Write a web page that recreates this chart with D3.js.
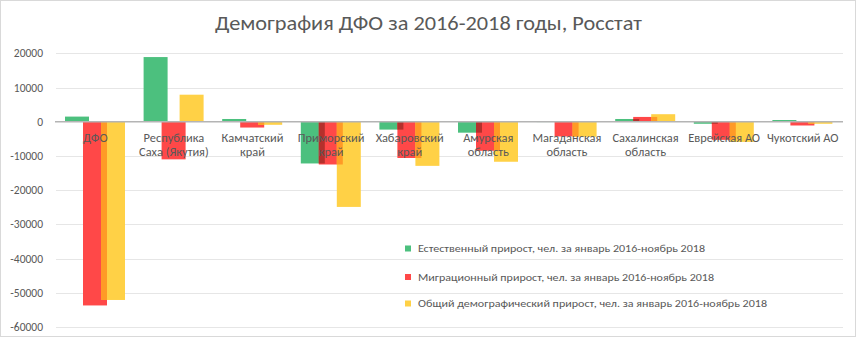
<!DOCTYPE html>
<html><head><meta charset="utf-8">
<script src="https://cdn.jsdelivr.net/npm/d3@7"></script>
<style>
html,body{margin:0;padding:0;background:#fff;}
svg{display:block;}
text{font-family:Carlito,"Liberation Sans Narrow","Liberation Sans",Arial,sans-serif;fill:#595959;}
</style></head>
<body>
<script>
const title = "Демография ДФО за 2016-2018 годы, Росстат";
const categories = ["ДФО","Республика Саха (Якутия)","Камчатский край","Приморский край","Хабаровский край","Амурская область","Магаданская область","Сахалинская область","Еврейская АО","Чукотский  АО"];
const categoryLines = [["ДФО"],["Республика","Саха (Якутия)"],["Камчатский","край"],["Приморский","край"],["Хабаровский","край"],["Амурская","область"],["Магаданская","область"],["Сахалинская","область"],["Еврейская АО"],["Чукотский  АО"]];
const seriesNames = ["Естественный прирост, чел. за январь 2016-ноябрь 2018","Миграционный прирост, чел. за январь 2016-ноябрь 2018","Общий  демографический прирост, чел. за январь 2016-ноябрь 2018"];
const natural   = [1500, 18900, 800, -12200, -2300, -3200, -100, 800, -600, 500];
const migration = [-53700, -11000, -1700, -12500, -10600, -8500, -4300, 1400, -5300, -1100];
const total     = [-52100, 7900, -900, -24900, -12900, -11700, -4400, 2200, -5900, -600];
const yTicks = [20000, 10000, 0, -10000, -20000, -30000, -40000, -50000, -60000];

const seriesValues = [natural, migration, total];
const colors = ["#4CC07E", "#FF4848", "#FFD146"];
const overlapColors = ["#B5302C", "#FF9A26"]; // green∩red, red∩yellow

const W = 856, H = 337;
const svg = d3.select("body").append("svg").attr("width", W).attr("height", H);
svg.append("rect").attr("x",0.5).attr("y",0.5).attr("width",W-1).attr("height",H-1)
  .attr("fill","#fff").attr("stroke","#D9D9D9");

const y = d3.scaleLinear().domain([-60000, 20000]).range([327, 53.3]);
const x = d3.scaleBand().domain(categories).range([57, 843]).padding(0);
const bw = x.bandwidth();
const barW = 24, barStep = 18, barOff = 8;

// title
svg.append("text").attr("x", 428.5).attr("y", 30).attr("text-anchor","middle")
  .attr("font-size", 21).attr("textLength", 427).attr("lengthAdjust","spacingAndGlyphs")
  .text(title);

// gridlines
svg.append("g").selectAll("line").data(yTicks.filter(d => d !== 0)).join("line")
  .attr("x1", 56).attr("x2", 843).attr("y1", d => Math.round(y(d))+0.5).attr("y2", d => Math.round(y(d))+0.5)
  .attr("stroke", "#E6E6E6").attr("stroke-width", 1);

// y tick labels
svg.append("g").selectAll("text").data(yTicks).join("text")
  .attr("x", 43).attr("y", d => y(d)).attr("dy","0.35em").attr("text-anchor","end")
  .attr("font-size", 11.5).text(d => d);

// bars
const bars = svg.append("g");
seriesValues.forEach((vals, si) => {
  bars.append("g").selectAll("rect").data(vals).join("rect")
    .attr("x", (d, i) => x(categories[i]) + barOff + si*barStep)
    .attr("width", barW)
    .attr("y", d => y(Math.max(0, d)))
    .attr("height", d => Math.abs(y(d) - y(0)))
    .attr("fill", colors[si]);
});
// overlap strips between adjacent series
for (let si = 0; si < 2; si++) {
  const a = seriesValues[si], b = seriesValues[si+1];
  const data = a.map((v, i) => ({i, v: Math.sign(v) === Math.sign(b[i]) ? Math.sign(v)*Math.min(Math.abs(v), Math.abs(b[i])) : 0}));
  bars.append("g").selectAll("rect").data(data).join("rect")
    .attr("x", d => x(categories[d.i]) + barOff + (si+1)*barStep)
    .attr("width", barW - barStep)
    .attr("y", d => y(Math.max(0, d.v)))
    .attr("height", d => Math.abs(y(d.v) - y(0)))
    .attr("fill", overlapColors[si]);
}

// zero line
svg.append("line").attr("x1", 55).attr("x2", 843).attr("y1", y(0)).attr("y2", y(0))
  .attr("stroke", "#B4B4B4").attr("stroke-width", 1.5);

// category labels
const cl = svg.append("g").selectAll("text").data(categories).join("text")
  .attr("text-anchor","middle").attr("font-size", 12.4)
  .attr("x", d => x(d) + bw/2 - 1);
cl.each(function(d, i) {
  d3.select(this).selectAll("tspan").data(categoryLines[i]).join("tspan")
    .attr("x", x(d) + bw/2 - 1)
    .attr("y", (t, j) => 141.5 + j*14.5)
    .text(t => t);
});

// legend
const legY = [248.5, 277, 303.5];
const legW = [287, 296, 349];
const lg = svg.append("g");
seriesNames.forEach((name, si) => {
  lg.append("rect").attr("x", 405).attr("y", legY[si]-3).attr("width", 6).attr("height", 6).attr("fill", colors[si]);
  lg.append("text").attr("x", 418).attr("y", legY[si]).attr("dy","0.35em")
    .attr("font-size", 11).attr("textLength", legW[si]).attr("lengthAdjust","spacingAndGlyphs").text(name);
});
</script>
</body></html>
